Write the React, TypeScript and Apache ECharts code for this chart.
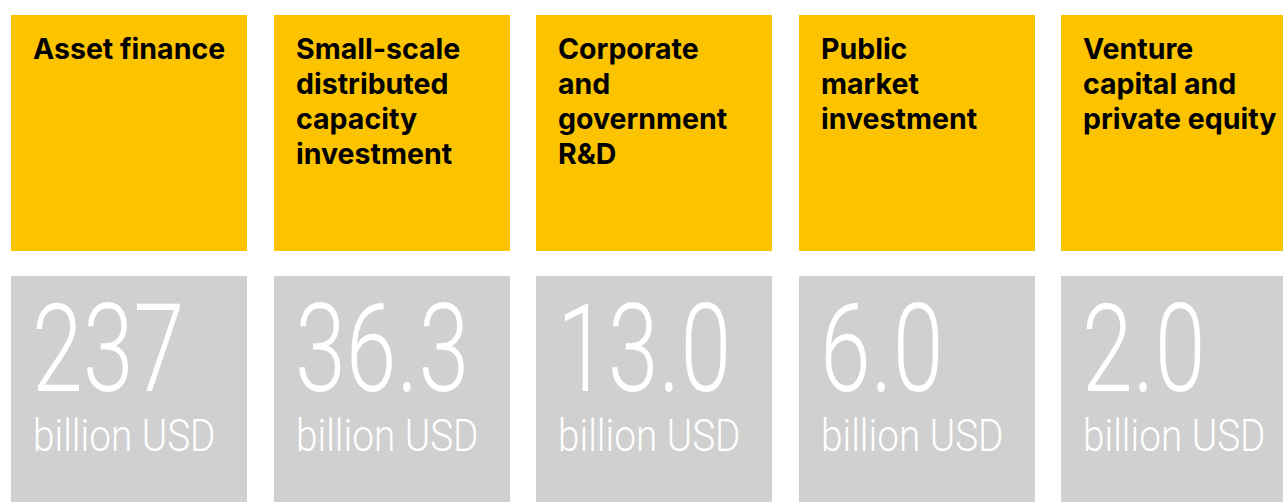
import React, { useEffect, useRef } from "react";
import * as echarts from "echarts";

const categories = [
  "Asset finance",
  "Small-scale\ndistributed\ncapacity\ninvestment",
  "Corporate\nand\ngovernment\nR&D",
  "Public\nmarket\ninvestment",
  "Venture\ncapital and\nprivate equity",
];
const values = ["237", "36.3", "13.0", "6.0", "2.0"];
const unitLabel = "billion USD";

const YELLOW = "#FCC300";
const GRAY = "#D0D0D0";

export default function App() {
  const ref = useRef<HTMLDivElement>(null);
  useEffect(() => {
    document.body.style.margin = "0";
    const chart = echarts.init(ref.current!, null, { renderer: "svg" });
    const left0 = 11;
    const pitch = 262.5;
    const w = 236;
    const elements: any[] = [];
    categories.forEach((cat, i) => {
      const x = Math.round(left0 + i * pitch);
      elements.push({
        type: "rect",
        shape: { x, y: 15, width: w, height: 236 },
        style: { fill: YELLOW },
        silent: true,
      });
      elements.push({
        type: "rect",
        shape: { x, y: 276, width: w, height: 240 },
        style: { fill: GRAY },
        silent: true,
      });
      elements.push({
        type: "text",
        x: x + 22,
        y: 31,
        style: {
          text: cat,
          fill: "#000",
          font: "bold 28.5px Inter",
          lineHeight: 35,
          verticalAlign: "top",
          align: "left",
        },
        silent: true,
      });
      elements.push({
        type: "text",
        x: x + 21,
        y: 349,
        scaleX: 0.75,
        style: {
          text: values[i],
          fill: "#fff",
          font: "300 122px Roboto",
          verticalAlign: "middle",
          align: "left",
        },
        silent: true,
      });
      elements.push({
        type: "text",
        x: x + 22,
        y: 436,
        scaleX: 0.88,
        style: {
          text: unitLabel,
          fill: "#fff",
          font: "300 44px Roboto",
          verticalAlign: "middle",
          align: "left",
        },
        silent: true,
      });
    });
    chart.setOption({
      animation: false,
      backgroundColor: "#fff",
      graphic: { elements },
    });
    return () => chart.dispose();
  }, []);
  return (
    <div
      ref={ref}
      style={{ position: "absolute", left: 0, top: 0, width: 1283, height: 502 }}
    />
  );
}
